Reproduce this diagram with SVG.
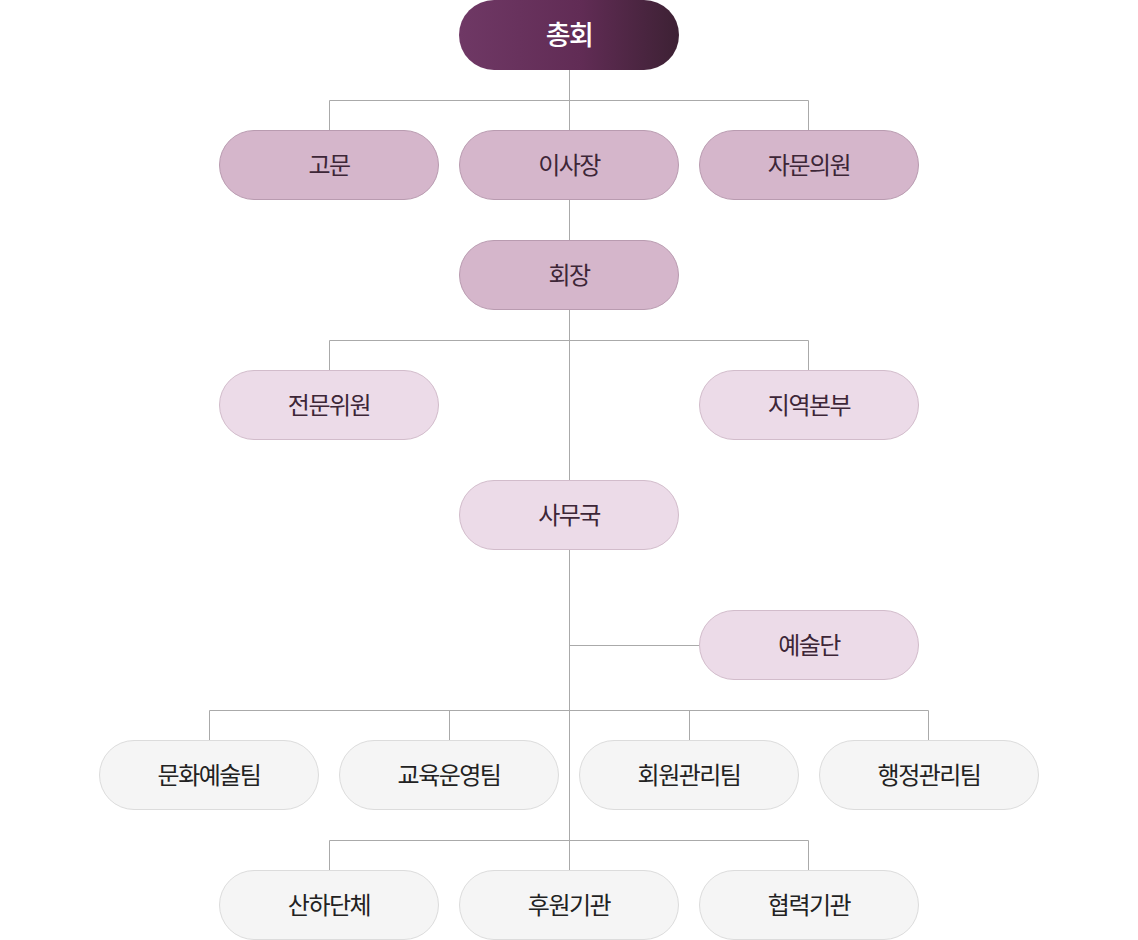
<svg xmlns="http://www.w3.org/2000/svg" width="1138" height="940" viewBox="0 0 1138 940">
<defs>
<linearGradient id="g" x1="0" y1="0" x2="1" y2="0">
<stop offset="0" stop-color="#6f3865"/>
<stop offset="0.55" stop-color="#612c55"/>
<stop offset="1" stop-color="#3d2134"/>
</linearGradient>
</defs>
<style>
text{font-family:"Noto Sans CJK KR","Noto Sans",sans-serif;text-anchor:middle;dominant-baseline:central;font-size:24px;letter-spacing:-1.5px}
.top rect{fill:url(#g)}
.top text{fill:#fff;font-size:27px;font-weight:500}
.l1 rect{fill:#d5b6cb;stroke:#b99bb0;stroke-width:1}
.l1 text{fill:#3d2637}
.l2 rect{fill:#ecdbe8;stroke:#d2bccb;stroke-width:1}
.l2 text{fill:#3d2637}
.l3 rect{fill:#f5f5f5;stroke:#dcdcdc;stroke-width:1}
.l3 text{fill:#222}
.c{fill:none;stroke:#aaaaaa;stroke-width:1}
</style>
<g id="connectors" class="c">
<path d="M569.5 70V870"/>
<path d="M329.5 130V100.5H808.5V130"/>
<path d="M329.5 370V340.5H808.5V370"/>
<path d="M569.5 645.5H699"/>
<path d="M209.5 740V710.5H928.5V740M449.5 710.5V740M689.5 710.5V740"/>
<path d="M329.5 870V840.5H808.5V870"/>
</g>
<g id="n-chonghoe" class="top"><rect x="459" y="0" width="220" height="70" rx="35"/><text x="569" y="33">총회</text></g>
<g id="n-gomun" class="l1"><rect x="219.5" y="130.5" width="219" height="69" rx="34.5"/><text x="329" y="163">고문</text></g>
<g id="n-isajang" class="l1"><rect x="459.5" y="130.5" width="219" height="69" rx="34.5"/><text x="569" y="163">이사장</text></g>
<g id="n-jamun" class="l1"><rect x="699.5" y="130.5" width="219" height="69" rx="34.5"/><text x="809" y="163">자문의원</text></g>
<g id="n-hoejang" class="l1"><rect x="459.5" y="240.5" width="219" height="69" rx="34.5"/><text x="569" y="273">회장</text></g>
<g id="n-jeonmun" class="l2"><rect x="219.5" y="370.5" width="219" height="69" rx="34.5"/><text x="329" y="403">전문위원</text></g>
<g id="n-jiyeok" class="l2"><rect x="699.5" y="370.5" width="219" height="69" rx="34.5"/><text x="809" y="403">지역본부</text></g>
<g id="n-samuguk" class="l2"><rect x="459.5" y="480.5" width="219" height="69" rx="34.5"/><text x="569" y="513">사무국</text></g>
<g id="n-yesuldan" class="l2"><rect x="699.5" y="610.5" width="219" height="69" rx="34.5"/><text x="809" y="643">예술단</text></g>
<g id="n-munhwa" class="l3"><rect x="99.5" y="740.5" width="219" height="69" rx="34.5"/><text x="209" y="773">문화예술팀</text></g>
<g id="n-gyoyuk" class="l3"><rect x="339.5" y="740.5" width="219" height="69" rx="34.5"/><text x="449" y="773">교육운영팀</text></g>
<g id="n-hoewon" class="l3"><rect x="579.5" y="740.5" width="219" height="69" rx="34.5"/><text x="689" y="773">회원관리팀</text></g>
<g id="n-haengjeong" class="l3"><rect x="819.5" y="740.5" width="219" height="69" rx="34.5"/><text x="929" y="773">행정관리팀</text></g>
<g id="n-sanha" class="l3"><rect x="219.5" y="870.5" width="219" height="69" rx="34.5"/><text x="329" y="903">산하단체</text></g>
<g id="n-huwon" class="l3"><rect x="459.5" y="870.5" width="219" height="69" rx="34.5"/><text x="569" y="903">후원기관</text></g>
<g id="n-hyeomnyeok" class="l3"><rect x="699.5" y="870.5" width="219" height="69" rx="34.5"/><text x="809" y="903">협력기관</text></g>
</svg>
